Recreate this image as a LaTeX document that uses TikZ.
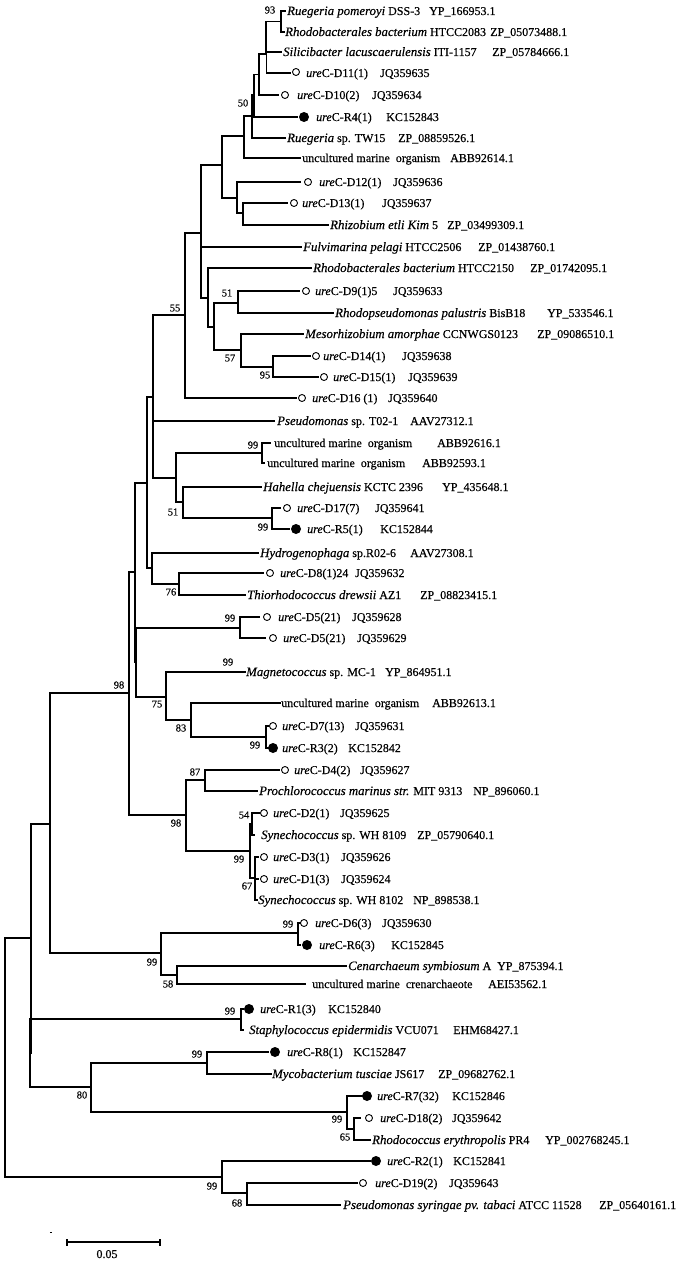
\documentclass[tikz,border=0pt]{standalone}
\usepackage{fontspec}
\setmainfont{Liberation Serif}[FakeBold=0.35]
\tikzset{
  br/.style={line width=1.6pt, line cap=rect, line join=miter},
  lab/.style={anchor=base west, inner sep=0pt, font=\fontsize{12}{14}\selectfont},
  bs/.style={inner sep=0pt, font=\fontsize{10.5}{12}\selectfont},
  oc/.style={circle, draw, line width=0.9pt, inner sep=0pt, minimum size=7pt},
  fc/.style={circle, fill, inner sep=0pt, minimum size=10pt},
}
\newcommand\Lf[7]{\coordinate (#1) at (#2,#3);
  \node[lab] (#1l) at (#4,#3+4) {#5};
  \node[lab] (#1a) at (#6,#3+4) {#7};}
\newcommand\Mo[3]{\node[oc] (#1) at (#2,#3) {};}
\newcommand\Mf[3]{\node[fc] (#1) at (#2,#3) {};}
\newcommand\E[2]{\foreach \c in {#2} {\draw[br] (#1) |- (\c);}}
\newcommand\U{\textit{ure}}
\newcommand\I[1]{{\fontsize{12.8}{14}\selectfont\itshape #1}}
\begin{document}
\begin{tikzpicture}[x=1pt,y=-1pt]
\useasboundingbox (0,0) rectangle (683,1263);
% internal nodes
\coordinate (rt) at (5,1057);
\coordinate (a2) at (31,938);
\coordinate (a1) at (30,1053);
\coordinate (b) at (50,824);
\coordinate (c) at (129,693);
\coordinate (n2) at (135,572);
\coordinate (n1) at (136,662);
\coordinate (o) at (147,483);
\coordinate (p) at (153,397);
\coordinate (n55) at (185,315);
\coordinate (r) at (201,233);
\coordinate (z) at (222,165);
\coordinate (y) at (244,136);
\coordinate (n50) at (252,116);
\coordinate (w2) at (254,95);
\coordinate (w1) at (259,74.5);
\coordinate (x1b) at (266.5,54);
\coordinate (x1a) at (266,36);
\coordinate (n93) at (281,21.5);
\coordinate (v) at (237,198);
\coordinate (u) at (243,213);
\coordinate (t) at (208,298);
\coordinate (s) at (214,327);
\coordinate (n51a) at (238,303);
\coordinate (n57) at (241,350);
\coordinate (n95) at (273,367);
\coordinate (q) at (176,478);
\coordinate (n99b) at (262,453);
\coordinate (n51b) at (183,502);
\coordinate (n99c) at (272,518);
\coordinate (k) at (152,568);
\coordinate (n76) at (179,584);
\coordinate (n99d) at (240,628);
\coordinate (n75) at (166,697);
\coordinate (n83) at (191,720);
\coordinate (n99e) at (266,737);
\coordinate (n98b) at (186,815);
\coordinate (n87) at (205,780);
\coordinate (n99f) at (250,851);
\coordinate (n54) at (252,824);
\coordinate (n67) at (255,878);
\coordinate (d) at (161,953);
\coordinate (n99g) at (298,933);
\coordinate (n58) at (177,975);
\coordinate (n99h) at (241,1019);
\coordinate (n80) at (91,1087);
\coordinate (n99i) at (207,1063);
\coordinate (n99j) at (347,1112);
\coordinate (n65) at (354,1129);
\coordinate (n99k) at (222,1177);
\coordinate (n68) at (247,1193);
% leaves
\Lf{t1}{285}{11}{287}{\I{Ruegeria pomeroyi} DSS-3}{429}{YP\_166953.1}
\Lf{t2}{284}{32}{285}{\I{Rhodobacterales bacterium} HTCC2083}{490}{ZP\_05073488.1}
\Lf{t3}{281}{52}{283}{\I{Silicibacter lacuscaerulensis} ITI-1157}{492}{ZP\_05784666.1}
\Lf{t4}{290}{73}{306}{\U C-D11(1)}{380}{JQ359635}
\Lf{t5}{278}{95}{297}{\U C-D10(2)}{372}{JQ359634}
\Lf{t6}{297}{117}{316}{\U C-R4(1)}{386}{KC152843}
\Lf{t7}{285}{138}{287}{\I{Ruegeria} sp. TW15}{398}{ZP\_08859526.1}
\Lf{t8}{300}{158}{302}{uncultured marine\ \ organism}{450}{ABB92614.1}
\Lf{t9}{300}{182}{319}{\U C-D12(1)}{393}{JQ359636}
\Lf{t10}{287}{203}{302}{\U C-D13(1)}{382}{JQ359637}
\Lf{t11}{328}{225}{330}{\I{Rhizobium etli Kim} 5}{447}{ZP\_03499309.1}
\Lf{t12}{301}{247}{303}{\I{Fulvimarina pelagi} HTCC2506}{478}{ZP\_01438760.1}
\Lf{t13}{311}{268}{313}{\I{Rhodobacterales bacterium} HTCC2150}{530}{ZP\_01742095.1}
\Lf{t14}{299}{291}{315}{\U C-D9(1)5}{393}{JQ359633}
\Lf{t15}{333}{313}{335}{\I{Rhodopseudomonas palustris} BisB18}{547}{YP\_533546.1}
\Lf{t16}{303}{334}{305}{\I{Mesorhizobium amorphae} CCNWGS0123}{537}{ZP\_09086510.1}
\Lf{t17}{310}{356}{323}{\U C-D14(1)}{402}{JQ359638}
\Lf{t18}{318}{377}{333}{\U C-D15(1)}{408}{JQ359639}
\Lf{t19}{296}{398}{312}{\U C-D16 (1)}{388}{JQ359640}
\Lf{t20}{274}{421}{277}{\I{Pseudomonas} sp. T02-1}{410}{AAV27312.1}
\Lf{t21}{270}{443}{274}{uncultured marine\ \ organism}{437}{ABB92616.1}
\Lf{t22}{264}{463}{267}{uncultured marine\ \ organism}{422}{ABB92593.1}
\Lf{t23}{261}{487}{263}{\I{Hahella chejuensis} KCTC 2396}{442}{YP\_435648.1}
\Lf{t24}{280}{508}{297}{\U C-D17(7)}{375}{JQ359641}
\Lf{t25}{289}{529}{307}{\U C-R5(1)}{380}{KC152844}
\Lf{t26}{258}{553}{260}{\I{Hydrogenophaga} sp.R02-6}{410}{AAV27308.1}
\Lf{t27}{263}{573}{280}{\U C-D8(1)24}{355}{JQ359632}
\Lf{t28}{245}{595}{247}{\I{Thiorhodococcus drewsii} AZ1}{420}{ZP\_08823415.1}
\Lf{t29}{259}{617}{278}{\U C-D5(21)}{352}{JQ359628}
\Lf{t30}{265}{638}{283}{\U C-D5(21)}{357}{JQ359629}
\Lf{t31}{245}{672}{246}{\I{Magnetococcus} sp. MC-1}{385}{YP\_864951.1}
\Lf{t32}{280}{703}{281}{uncultured marine\ \ organism}{432}{ABB92613.1}
\Lf{t33}{268}{726}{282}{\U C-D7(13)}{355}{JQ359631}
\Lf{t34}{268}{748}{282}{\U C-R3(2)}{348}{KC152842}
\Lf{t35}{279}{770}{294}{\U C-D4(2)}{360}{JQ359627}
\Lf{t36}{257}{791}{259}{\I{Prochlorococcus marinus str.} MIT 9313}{473}{NP\_896060.1}
\Lf{t37}{259}{813}{273}{\U C-D2(1)}{340}{JQ359625}
\Lf{t38}{254}{835}{261}{\I{Synechococcus} sp. WH 8109}{417}{ZP\_05790640.1}
\Lf{t39}{258}{857}{273}{\U C-D3(1)}{341}{JQ359626}
\Lf{t40}{258}{879}{273}{\U C-D1(3)}{341}{JQ359624}
\Lf{t41}{257}{900}{258}{\I{Synechococcus} sp. WH 8102}{413}{NP\_898538.1}
\Lf{t42}{300}{923}{315}{\U C-D6(3)}{382}{JQ359630}
\Lf{t43}{300}{945}{319}{\U C-R6(3)}{391}{KC152845}
\Lf{t44}{346}{966}{348}{\I{Cenarchaeum symbiosum} A}{497}{YP\_875394.1}
\Lf{t45}{305}{984}{312}{uncultured marine\ \ crenarchaeote}{488}{AEI53562.1}
\Lf{t46}{243}{1009}{260}{\U C-R1(3)}{328}{KC152840}
\Lf{t47}{243}{1030}{249}{\I{Staphylococcus epidermidis} VCU071}{453}{EHM68427.1}
\Lf{t48}{268}{1052}{287}{\U C-R8(1)}{353}{KC152847}
\Lf{t49}{271}{1074}{272}{\I{Mycobacterium tusciae} JS617}{438}{ZP\_09682762.1}
\Lf{t50}{362}{1096}{377}{\U C-R7(32)}{452}{KC152846}
\Lf{t51}{360}{1118}{380}{\U C-D18(2)}{452}{JQ359642}
\Lf{t52}{370}{1140}{372}{\I{Rhodococcus erythropolis} PR4}{545}{YP\_002768245.1}
\Lf{t53}{370}{1161}{387}{\U C-R2(1)}{453}{KC152841}
\Lf{t54}{357}{1183}{375}{\U C-D19(2)}{449}{JQ359643}
\Lf{t55}{340}{1205}{343}{\I{Pseudomonas syringae pv. tabaci} ATCC 11528}{599}{ZP\_05640161.1}
% markers
\Mo{m4}{296}{72}
\Mo{m5}{285}{95}
\Mf{m6}{304}{117}
\Mo{m9}{308}{182}
\Mo{m10}{294}{203}
\Mo{m14}{306}{291}
\Mo{m17}{316}{356}
\Mo{m18}{324}{377}
\Mo{m19}{302}{398}
\Mo{m24}{287}{508}
\Mf{m25}{296}{529}
\Mo{m27}{270}{573}
\Mo{m29}{267}{617}
\Mo{m30}{273}{638}
\Mo{m33}{273}{726}
\Mf{m34}{273}{748}
\Mo{m35}{285}{770}
\Mo{m37}{264}{813}
\Mo{m39}{264}{857}
\Mo{m40}{264}{879}
\Mo{m42}{304}{923}
\Mf{m43}{307}{945}
\Mf{m46}{249}{1009}
\Mf{m48}{275}{1052}
\Mf{m50}{367}{1096}
\Mo{m51}{369}{1118}
\Mf{m53}{376}{1161}
\Mo{m54}{363}{1183}
% branches
\E{rt}{a2,n99k}
\E{a2}{b,a1}
\E{a1}{n99h,n80}
\E{b}{c,d}
\E{c}{n2,n98b}
\E{n2}{o,n1}
\E{n1}{n99d,n75}
\E{o}{p,k}
\E{p}{n55,t20,q}
\E{n55}{r,t19}
\E{r}{z,t12,t}
\E{z}{y,v}
\E{y}{n50,t8}
\E{n50}{w2,t7}
\E{w2}{w1,t6}
\E{w1}{x1b,t5}
\E{x1b}{x1a,t4}
\E{x1a}{n93,t3}
\E{n93}{t1,t2}
\E{v}{t9,u}
\E{u}{t10,t11}
\E{t}{t13,s}
\E{s}{n51a,n57}
\E{n51a}{t14,t15}
\E{n57}{t16,n95}
\E{n95}{t17,t18}
\E{q}{n99b,n51b}
\E{n99b}{t21,t22}
\E{n51b}{t23,n99c}
\E{n99c}{t24,t25}
\E{k}{t26,n76}
\E{n76}{t27,t28}
\E{n99d}{t29,t30}
\E{n75}{t31,n83}
\E{n83}{t32,n99e}
\E{n99e}{t33,t34}
\E{n98b}{n87,n99f}
\E{n87}{t35,t36}
\E{n99f}{n54,n67}
\E{n54}{t37,t38}
\E{n67}{t39,t40,t41}
\E{d}{n99g,n58}
\E{n99g}{t42,t43}
\E{n58}{t44,t45}
\E{n99h}{t46,t47}
\E{n80}{n99i,n99j}
\E{n99i}{t48,t49}
\E{n99j}{t50,n65}
\E{n65}{t51,t52}
\E{n99k}{t53,n68}
\E{n68}{t54,t55}
% bootstrap values
\node[bs] (b1) at (270,10) {93};
\node[bs] (b2) at (243,103) {50};
\node[bs] (b3) at (175,308) {55};
\node[bs] (b4) at (227,293) {51};
\node[bs] (b5) at (230,358) {57};
\node[bs] (b6) at (265,375) {95};
\node[bs] (b7) at (253,445) {99};
\node[bs] (b8) at (173,512) {51};
\node[bs] (b9) at (263,527) {99};
\node[bs] (b10) at (171,592) {76};
\node[bs] (b11) at (230,618) {99};
\node[bs] (b12) at (228,662) {99};
\node[bs] (b13) at (119,685) {98};
\node[bs] (b14) at (157,704) {75};
\node[bs] (b15) at (181,728) {83};
\node[bs] (b16) at (255,745) {99};
\node[bs] (b17) at (195,772) {87};
\node[bs] (b18) at (176,823) {98};
\node[bs] (b19) at (244,815) {54};
\node[bs] (b20) at (239,859) {99};
\node[bs] (b21) at (247,886) {67};
\node[bs] (b22) at (288,924) {99};
\node[bs] (b23) at (152,962) {99};
\node[bs] (b24) at (168,984) {58};
\node[bs] (b25) at (230,1011) {99};
\node[bs] (b26) at (197,1054) {99};
\node[bs] (b27) at (82,1095) {80};
\node[bs] (b28) at (337,1119) {99};
\node[bs] (b29) at (345,1137) {65};
\node[bs] (b30) at (212,1186) {99};
\node[bs] (b31) at (237,1203) {68};
% scale bar
\coordinate (sb1) at (67,1242);
\coordinate (sb2) at (160,1242);
\draw[line width=1.2pt] (sb1) -- (sb2);
\draw[line width=1.2pt] ([yshift=-3.5pt]sb1) -- ([yshift=3.5pt]sb1);
\draw[line width=1.2pt] ([yshift=-3.5pt]sb2) -- ([yshift=3.5pt]sb2);
\node[lab, anchor=base] (sbl) at (107,1258) {0.05};
\coordinate (dm) at (51,1232);
\draw[line width=0.8pt] ([xshift=-1.2pt]dm) -- ([xshift=1.2pt]dm);
\end{tikzpicture}
\end{document}
